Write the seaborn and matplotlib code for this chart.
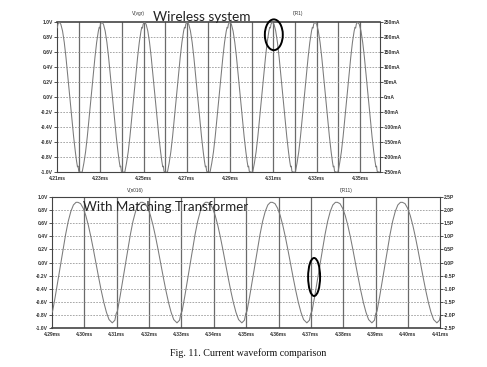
import numpy as np
import pandas as pd
import matplotlib
matplotlib.use('agg')
import matplotlib.pyplot as plt
from matplotlib.patches import Ellipse
import seaborn as sns

sns.set_theme(context='paper', style='white')
plt.rcParams['font.family'] = ['Liberation Sans', 'DejaVu Sans']

# --- top panel: wireless system, V(vgr) and I(R1)
top_peaks = [4.1913, 4.2110, 4.2307, 4.2504, 4.2701, 4.2898, 4.3095, 4.3292, 4.3489, 4.3686]
top_phase = [0.00, 0.04, 0.08, 0.12, 0.16, 0.20, 0.25, 0.30, 0.34, 0.38, 0.41, 0.43, 0.445,
             0.46, 0.50, 0.54, 0.58, 0.62, 0.66, 0.70, 0.75, 0.80, 0.84, 0.88, 0.92, 0.94,
             0.955, 0.97]
top_volts = [1.00, 0.97, 0.88, 0.73, 0.53, 0.30, 0.00, -0.30, -0.53, -0.73, -0.86, -0.93, -0.92,
             -0.99, -1.00, -1.00, -0.88, -0.73, -0.53, -0.30, 0.00, 0.30, 0.53, 0.73, 0.88, 0.93,
             0.92, 0.97]

# --- bottom panel: with matching transformer, V(n016) and I(R11)
bot_peaks = [4.2779, 4.2980, 4.3180, 4.3380, 4.3581, 4.3782, 4.3983, 4.4184]
bot_phase = [0.00, 0.04, 0.08, 0.12, 0.16, 0.20, 0.24, 0.28, 0.32, 0.36, 0.40, 0.44, 0.48,
             0.53, 0.57, 0.59, 0.61, 0.65, 0.69, 0.73, 0.77, 0.81, 0.85, 0.89, 0.93, 0.97]
bot_volts = [0.92, 0.90, 0.83, 0.72, 0.57, 0.39, 0.19, -0.02, -0.23, -0.43, -0.61, -0.76, -0.87,
             -0.92, -0.88, -0.78, -0.74, -0.52, -0.28, -0.04, 0.20, 0.43, 0.63, 0.78, 0.88, 0.92]

top_yticks = [1.0, 0.8, 0.6, 0.4, 0.2, 0.0, -0.2, -0.4, -0.6, -0.8, -1.0]
top_ylabels = ['1.0V', '0.8V', '0.6V', '0.4V', '0.2V', '0.0V', '-0.2V', '-0.4V', '-0.6V', '-0.8V', '-1.0V']
top_rticks = [250, 200, 150, 100, 50, 0, -50, -100, -150, -200, -250]
top_rlabels = ['250mA', '200mA', '150mA', '100mA', '50mA', '0mA', '-50mA', '-100mA',
               '-150mA', '-200mA', '-250mA']
top_xticks = [4.21, 4.23, 4.25, 4.27, 4.29, 4.31, 4.33, 4.35]
bot_xticks = [4.29, 4.30, 4.31, 4.32, 4.33, 4.34, 4.35, 4.36, 4.37, 4.38, 4.39, 4.40, 4.41]
bot_rticks = [2.5, 2.0, 1.5, 1.0, 0.5, 0.0, -0.5, -1.0, -1.5, -2.0, -2.5]
bot_rlabels = ['2.5P', '2.0P', '1.5P', '1.0P', '0.5P', '0.0P', '-0.5P', '-1.0P', '-1.5P',
               '-2.0P', '-2.5P']


def build_trace(peaks, phase, volts):
    rows = []
    for p0, p1 in zip(peaks[:-1], peaks[1:]):
        for ph, v in zip(phase, volts):
            rows.append((p0 + ph * (p1 - p0), v))
    return pd.DataFrame(rows, columns=['t', 'v'])


def bold_labels(ax):
    for lab in ax.get_xticklabels() + ax.get_yticklabels():
        lab.set_fontweight('bold')


def style_axes(ax, axr, xlim, xticks, xlabels, minor_x, rlim, rticks, rlabels):
    ax.set_xlim(*xlim)
    ax.set_ylim(-1.0, 1.0)
    ax.set_xticks(xticks)
    ax.set_xticklabels(xlabels)
    ax.set_yticks(top_yticks)
    ax.set_yticklabels(top_ylabels)
    for x in minor_x:
        ax.axvline(x, color='#6a6a6a', lw=0.9, zorder=1)
    for y in top_yticks[1:-1]:
        ax.axhline(y, color='#9a9a9a', lw=0.6, ls=(0, (2, 1.5)), zorder=1)
    ax.tick_params(axis='both', direction='out', length=2, width=0.6, labelsize=3.6,
                   pad=0.8, colors='#333333')
    for s in ax.spines.values():
        s.set_color('#444444')
        s.set_linewidth(0.8)
    ax.set_xlabel('')
    ax.set_ylabel('')
    axr.set_ylim(*rlim)
    axr.set_yticks(rticks)
    axr.set_yticklabels(rlabels)
    axr.tick_params(axis='y', direction='out', length=2, width=0.6, labelsize=3.6,
                    pad=0.8, colors='#333333')
    for s in axr.spines.values():
        s.set_visible(False)
    axr.grid(False)
    bold_labels(ax)
    bold_labels(axr)


fig = plt.figure(figsize=(4.87, 3.67), dpi=100)

# --- top chart
ax1 = fig.add_axes([0.117, 0.531, 0.663, 0.409])
df_top = build_trace(top_peaks, top_phase, top_volts)
sns.lineplot(data=df_top, x='t', y='v', color='#7a7a7a', lw=0.75, sort=False,
             estimator=None, ax=ax1, zorder=3)
ax1r = ax1.twinx()
ax1r.set_position(ax1.get_position())
style_axes(ax1, ax1r, (4.21, 4.3592), top_xticks, [f'{x:.2f}ms' for x in top_xticks],
           np.round(np.arange(4.22, 4.359, 0.01), 2),
           (-250, 250), top_rticks, top_rlabels)
ax1.spines['top'].set_linewidth(1.2)
ax1.add_patch(Ellipse((4.3102, 0.83), 0.0083, 0.41, fill=False, ec='black', lw=1.4,
                      clip_on=False, zorder=5))

# --- bottom chart
ax2 = fig.add_axes([0.107, 0.106, 0.797, 0.357])
df_bot = build_trace(bot_peaks, bot_phase, bot_volts)
sns.lineplot(data=df_bot, x='t', y='v', color='#7a7a7a', lw=0.75, sort=False,
             estimator=None, ax=ax2, zorder=3)
ax2r = ax2.twinx()
ax2r.set_position(ax2.get_position())
style_axes(ax2, ax2r, (4.29, 4.41), bot_xticks, [f'{x:.2f}ms' for x in bot_xticks],
           bot_xticks[1:-1], (-2.5, 2.5), bot_rticks, bot_rlabels)
ax2.spines['bottom'].set_linewidth(1.2)
ax2.add_patch(Ellipse((4.3710, -0.22), 0.0037, 0.58, fill=False, ec='black', lw=1.4,
                      clip_on=False, zorder=5))

# --- texts
fig.text(153 / 487, 1 - 21 / 367, 'Wireless system', family=['Lato', 'DejaVu Sans'],
         fontsize=9.8, color='#222222', va='baseline')
fig.text(138 / 487, 1 - 15 / 367, 'V(vgr)', fontsize=3.4, ha='center', color='#333333')
fig.text(298 / 487, 1 - 15 / 367, 'I(R1)', fontsize=3.4, ha='center', color='#333333')
fig.text(83 / 487, 1 - 211 / 367, 'With Matching Transformer', family=['Lato', 'DejaVu Sans'],
         fontsize=9.6, color='#222222', va='baseline')
fig.text(135 / 487, 1 - 192 / 367, 'V(n016)', fontsize=3.4, ha='center', color='#333333')
fig.text(346 / 487, 1 - 192 / 367, 'I(R11)', fontsize=3.4, ha='center', color='#333333')
fig.text(248 / 487, 1 - 356 / 367, 'Fig. 11. Current waveform comparison',
         family=['Liberation Serif', 'DejaVu Serif'], fontsize=7.2, ha='center', color='#111111')

plt.savefig('out.png', dpi=100)
plt.close(fig)
